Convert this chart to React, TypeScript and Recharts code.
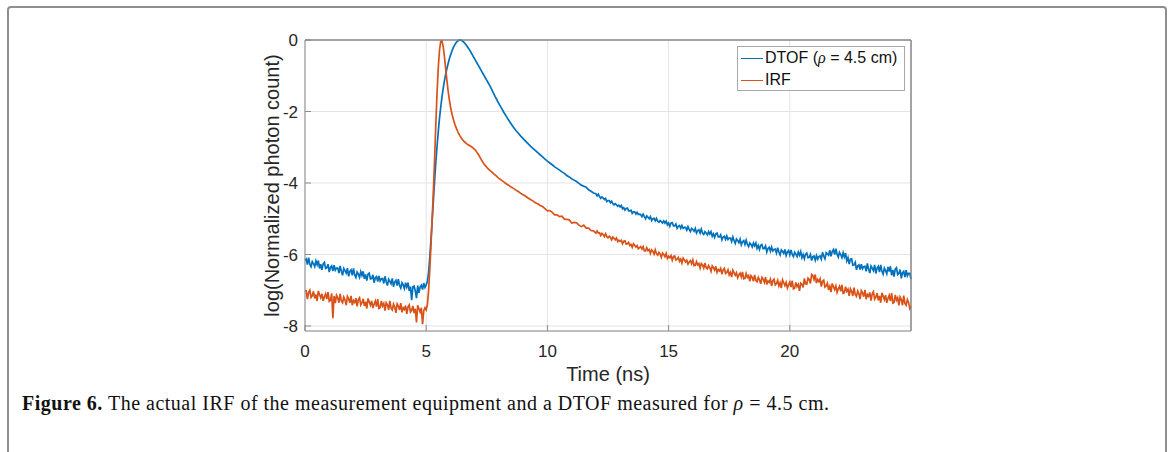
import { LineChart, Line, XAxis, YAxis, CartesianGrid, Legend, ReferenceLine } from 'recharts';

// log(normalized photon count)
// 0.00 – 4.95 ns, 0.05 ns bins (background before the pulse)
const dtofBaseline = [
  -6.17, -6.13, -6.28, -6.09, -6.27, -6.34, -6.2, -6.26, -6.34, -6.18,
  -6.29, -6.17, -6.39, -6.27, -6.43, -6.26, -6.22, -6.39, -6.37, -6.27,
  -6.49, -6.36, -6.32, -6.46, -6.3, -6.44, -6.38, -6.38, -6.52, -6.32,
  -6.47, -6.58, -6.39, -6.45, -6.52, -6.38, -6.61, -6.47, -6.43, -6.58,
  -6.39, -6.57, -6.64, -6.49, -6.55, -6.64, -6.48, -6.59, -6.47, -6.68,
  -6.56, -6.73, -6.55, -6.52, -6.68, -6.67, -6.57, -6.79, -6.65, -6.62,
  -6.76, -6.6, -6.74, -6.68, -6.67, -6.81, -6.61, -6.76, -6.87, -6.69,
  -6.75, -6.82, -6.67, -6.9, -6.77, -6.72, -6.87, -6.69, -6.86, -6.94,
  -6.79, -6.85, -6.95, -6.79, -6.91, -6.79, -7.02, -6.9, -7.28, -6.9,
  -6.88, -7.02, -7.22, -6.87, -7.07, -6.91, -6.86, -6.98, -6.8, -6.92,
];
const irfBaseline = [
  -7.02, -7.02, -7.25, -7.06, -7.0, -7.2, -7.15, -7.03, -7.23, -7.12,
  -7.3, -7.02, -7.12, -7.21, -7.1, -7.3, -7.18, -7.1, -7.25, -7.05,
  -7.31, -7.28, -7.09, -7.78, -7.16, -7.36, -7.14, -7.21, -7.35, -7.1,
  -7.3, -7.35, -7.19, -7.27, -7.42, -7.17, -7.24, -7.35, -7.16, -7.42,
  -7.29, -7.34, -7.22, -7.45, -7.26, -7.21, -7.41, -7.35, -7.24, -7.44,
  -7.32, -7.51, -7.23, -7.32, -7.42, -7.3, -7.5, -7.39, -7.3, -7.46,
  -7.25, -7.51, -7.49, -7.3, -7.44, -7.37, -7.57, -7.35, -7.41, -7.55,
  -7.3, -7.5, -7.55, -7.39, -7.47, -7.63, -7.38, -7.44, -7.55, -7.36,
  -7.62, -7.49, -7.54, -7.43, -7.66, -7.47, -7.41, -7.61, -7.56, -7.44,
  -7.64, -7.52, -7.9, -7.42, -7.52, -7.61, -7.49, -7.95, -7.57, -7.49,
];

// 5.00 – 7.95 ns, 0.05 ns bins (rise and peak)
const dtofPeak = [
  -6.85, -6.75, -6.5, -6.05, -5.55, -5.0, -4.45, -3.9, -3.4, -2.95,
  -2.55, -2.18, -1.88, -1.6, -1.36, -1.15, -0.97, -0.81, -0.67, -0.54,
  -0.43, -0.33, -0.24, -0.17, -0.11, -0.06, -0.03, -0.01, 0, -0.01,
  -0.03, -0.06, -0.1, -0.14, -0.19, -0.24, -0.29, -0.35, -0.41, -0.47,
  -0.53, -0.59, -0.65, -0.71, -0.77, -0.83, -0.89, -0.95, -1.01, -1.07,
  -1.13, -1.19, -1.25, -1.31, -1.38, -1.45, -1.52, -1.59, -1.65, -1.72,
];
const irfPeak = [
  -7.55, -7.4, -7.0, -6.4, -5.7, -4.95, -4.15, -3.25, -2.3, -1.45,
  -0.75, -0.28, -0.03, -0.02, -0.18, -0.45, -0.78, -1.1, -1.4, -1.65,
  -1.86, -2.03, -2.17, -2.29, -2.39, -2.48, -2.56, -2.63, -2.69, -2.74,
  -2.79, -2.83, -2.86, -2.89, -2.92, -2.94, -2.96, -2.98, -3.0, -3.03,
  -3.06, -3.1, -3.15, -3.2, -3.26, -3.32, -3.38, -3.43, -3.48, -3.52,
  -3.56, -3.6, -3.63, -3.66, -3.69, -3.72, -3.75, -3.78, -3.81, -3.84,
];

// 8.0 – 11.9 ns, 0.1 ns bins (early decay)
const dtofDecay = [
  -1.78, -1.9, -2.02, -2.13, -2.24, -2.34, -2.44, -2.53, -2.61, -2.69,
  -2.76, -2.83, -2.9, -2.97, -3.03, -3.09, -3.15, -3.21, -3.27, -3.33,
  -3.39, -3.44, -3.49, -3.55, -3.59, -3.64, -3.69, -3.73, -3.79, -3.83,
  -3.88, -3.92, -3.96, -4.01, -4.06, -4.09, -4.12, -4.19, -4.23, -4.28,
];
const irfDecay = [
  -3.87, -3.92, -3.97, -4.02, -4.06, -4.11, -4.15, -4.2, -4.24, -4.29,
  -4.33, -4.37, -4.42, -4.46, -4.5, -4.55, -4.58, -4.63, -4.66, -4.72,
  -4.78, -4.77, -4.82, -4.89, -4.89, -4.94, -4.93, -5.01, -5.02, -5.03,
  -5.12, -5.1, -5.11, -5.18, -5.22, -5.18, -5.26, -5.26, -5.33, -5.34,
];

// 12.00 – 25.00 ns, 0.05 ns bins (noisy tail)
const dtofTail = [
  -4.3, -4.36, -4.31, -4.38, -4.43, -4.39, -4.42, -4.46, -4.43, -4.52,
  -4.49, -4.49, -4.55, -4.51, -4.58, -4.61, -4.58, -4.61, -4.65, -4.62,
  -4.67, -4.63, -4.72, -4.69, -4.76, -4.71, -4.7, -4.78, -4.78, -4.76,
  -4.85, -4.81, -4.81, -4.87, -4.82, -4.88, -4.87, -4.88, -4.94, -4.87,
  -4.94, -5.0, -4.92, -4.96, -5.0, -4.94, -5.05, -5.0, -4.99, -5.06,
  -4.99, -5.07, -5.1, -5.05, -5.08, -5.12, -5.06, -5.12, -5.07, -5.17,
  -5.12, -5.21, -5.12, -5.11, -5.2, -5.2, -5.15, -5.27, -5.21, -5.19,
  -5.27, -5.19, -5.27, -5.24, -5.24, -5.32, -5.22, -5.3, -5.36, -5.27,
  -5.3, -5.35, -5.27, -5.4, -5.33, -5.31, -5.4, -5.29, -5.4, -5.44,
  -5.36, -5.4, -5.45, -5.36, -5.43, -5.36, -5.49, -5.42, -5.52, -5.42,
  -5.4, -5.51, -5.51, -5.45, -5.59, -5.51, -5.49, -5.58, -5.48, -5.58,
  -5.54, -5.54, -5.64, -5.51, -5.61, -5.69, -5.57, -5.61, -5.67, -5.57,
  -5.73, -5.64, -5.61, -5.72, -5.6, -5.72, -5.78, -5.68, -5.72, -5.79,
  -5.68, -5.76, -5.68, -5.83, -5.75, -5.86, -5.74, -5.72, -5.84, -5.83,
  -5.76, -5.93, -5.83, -5.8, -5.91, -5.79, -5.9, -5.86, -5.85, -5.96,
  -5.81, -5.93, -6.01, -5.87, -5.91, -5.97, -5.86, -6.03, -5.93, -5.89,
  -6.01, -5.87, -6.0, -6.06, -5.94, -5.99, -6.06, -5.93, -6.02, -5.92,
  -6.09, -6.0, -6.12, -5.99, -5.96, -6.09, -6.08, -6.0, -6.17, -6.06,
  -6.04, -6.16, -6.03, -6.13, -6.06, -6.04, -6.13, -5.94, -6.05, -6.12,
  -5.95, -5.98, -6.02, -5.88, -6.05, -5.92, -5.86, -6.0, -5.84, -5.99,
  -6.07, -5.94, -6.0, -6.09, -5.95, -6.07, -5.96, -6.18, -6.09, -6.27,
  -6.13, -6.12, -6.3, -6.29, -6.22, -6.43, -6.32, -6.29, -6.42, -6.27,
  -6.4, -6.34, -6.33, -6.47, -6.25, -6.41, -6.52, -6.32, -6.38, -6.45,
  -6.29, -6.53, -6.38, -6.33, -6.49, -6.29, -6.47, -6.55, -6.38, -6.45,
  -6.54, -6.35, -6.48, -6.33, -6.58, -6.43, -6.62, -6.41, -6.37, -6.56,
  -6.53, -6.42, -6.67, -6.51, -6.47, -6.63, -6.44, -6.6, -6.53, -6.53,
  -6.69,
];
const irfTail = [
  -5.4, -5.34, -5.4, -5.39, -5.47, -5.41, -5.44, -5.5, -5.42, -5.5,
  -5.53, -5.49, -5.52, -5.59, -5.51, -5.55, -5.59, -5.54, -5.64, -5.6,
  -5.63, -5.6, -5.7, -5.63, -5.62, -5.71, -5.7, -5.66, -5.75, -5.72,
  -5.8, -5.7, -5.74, -5.79, -5.75, -5.84, -5.81, -5.78, -5.85, -5.78,
  -5.9, -5.9, -5.81, -5.89, -5.86, -5.97, -5.87, -5.91, -5.99, -5.87,
  -5.98, -6.02, -5.94, -5.99, -6.08, -5.96, -6.0, -6.06, -5.97, -6.11,
  -6.05, -6.09, -6.03, -6.16, -6.06, -6.04, -6.15, -6.13, -6.08, -6.19,
  -6.13, -6.24, -6.1, -6.15, -6.21, -6.16, -6.27, -6.21, -6.17, -6.26,
  -6.15, -6.31, -6.3, -6.2, -6.29, -6.25, -6.38, -6.25, -6.29, -6.38,
  -6.24, -6.37, -6.4, -6.31, -6.37, -6.47, -6.32, -6.37, -6.44, -6.33,
  -6.5, -6.42, -6.46, -6.39, -6.55, -6.43, -6.39, -6.53, -6.5, -6.43,
  -6.57, -6.5, -6.63, -6.44, -6.51, -6.58, -6.51, -6.65, -6.57, -6.52,
  -6.63, -6.49, -6.68, -6.67, -6.53, -6.64, -6.59, -6.75, -6.59, -6.64,
  -6.75, -6.57, -6.72, -6.76, -6.64, -6.71, -6.82, -6.64, -6.69, -6.78,
  -6.63, -6.84, -6.74, -6.78, -6.69, -6.88, -6.73, -6.69, -6.85, -6.81,
  -6.72, -6.88, -6.79, -6.94, -6.71, -6.79, -6.87, -6.78, -6.94, -6.85,
  -6.77, -6.91, -6.73, -6.96, -6.94, -6.78, -6.9, -6.84, -7.02, -6.8,
  -6.83, -6.92, -6.67, -6.82, -6.83, -6.66, -6.7, -6.81, -6.56, -6.59,
  -6.7, -6.56, -6.8, -6.7, -6.76, -6.68, -6.9, -6.75, -6.72, -6.91,
  -6.88, -6.8, -6.99, -6.89, -7.05, -6.81, -6.9, -6.98, -6.88, -7.06,
  -6.96, -6.89, -7.03, -6.85, -7.09, -7.07, -6.9, -7.03, -6.97, -7.16,
  -6.96, -7.03, -7.16, -6.93, -7.12, -7.17, -7.02, -7.1, -7.25, -7.01,
  -7.07, -7.18, -6.99, -7.25, -7.12, -7.17, -7.06, -7.29, -7.1, -7.04,
  -7.25, -7.19, -7.08, -7.28, -7.16, -7.35, -7.07, -7.16, -7.26, -7.14,
  -7.35, -7.23, -7.14, -7.3, -7.08, -7.36, -7.34, -7.13, -7.28, -7.21,
  -7.42, -7.19, -7.26, -7.42, -7.15, -7.37, -7.42, -7.26, -7.34, -7.51,
  -7.45,
];

const segments = [
  { start: 0, step: 0.05, dtof: dtofBaseline, irf: irfBaseline },
  { start: 5, step: 0.05, dtof: dtofPeak, irf: irfPeak },
  { start: 8, step: 0.1, dtof: dtofDecay, irf: irfDecay },
  { start: 12, step: 0.05, dtof: dtofTail, irf: irfTail },
];

const data = segments.flatMap((s) =>
  s.dtof.map((v, i) => ({ t: +(s.start + i * s.step).toFixed(2), dtof: v, irf: s.irf[i] }))
);

const xTicks = [0, 5, 10, 15, 20];
const yTicks = [0, -2, -4, -6, -8];
const X_MAX = 25;
const Y_DOMAIN: [number, number] = [-8.14, 0];

const BLUE = '#0072BD';
const ORANGE = '#D95319';
const AXIS = '#8a8a8a';
const SANS = '"Liberation Sans", Arial, Helvetica, sans-serif';
const SERIF = '"Liberation Serif", "Times New Roman", serif';

const rho = <span style={{ fontFamily: SERIF, fontStyle: 'italic' }}>ρ</span>;

function LegendBox() {
  const row = (color: string, top: number, text: React.ReactNode) => (
    <div style={{ position: 'absolute', left: 3, top, height: 20, display: 'flex', alignItems: 'center', whiteSpace: 'nowrap' }}>
      <span style={{ width: 22, borderTop: `1.8px solid ${color}`, marginRight: 2 }} />
      <span>{text}</span>
    </div>
  );
  return (
    <div
      style={{
        position: 'relative',
        width: 168,
        height: 45,
        boxSizing: 'border-box',
        border: '1px solid #a9a9a9',
        background: '#fff',
        fontFamily: SANS,
        fontSize: 16,
        color: '#111',
      }}
    >
      {row(BLUE, 1, <>DTOF ({rho} = 4.5 cm)</>)}
      {row(ORANGE, 23, 'IRF')}
    </div>
  );
}

export default function App() {
  return (
    <div style={{ position: 'fixed', left: 0, top: 0, width: 1171, height: 452, background: '#fff', overflow: 'hidden' }}>
      <div
        style={{
          position: 'absolute',
          left: 7,
          top: 6,
          width: 1156,
          height: 470,
          border: '2px solid #8e8e8e',
          borderRadius: 4,
        }}
      />
      <div style={{ position: 'absolute', left: 0, top: 0 }}>
        <LineChart
          width={1171}
          height={452}
          data={data}
          margin={{ top: 39, right: 259, bottom: 91, left: 255 }}
          style={{ fontFamily: SANS }}
        >
          <CartesianGrid stroke="#e4e4e4" strokeWidth={1} />
          <XAxis
            dataKey="t"
            type="number"
            domain={[0, X_MAX]}
            ticks={xTicks}
            height={30}
            stroke={AXIS}
            tickSize={-6}
            tickMargin={20}
            tick={{ fill: '#262626', fontSize: 17 }}
            label={{ value: 'Time (ns)', position: 'bottom', offset: 6, fill: '#262626', fontSize: 20 }}
          />
          <XAxis
            xAxisId="top"
            dataKey="t"
            orientation="top"
            type="number"
            domain={[0, X_MAX]}
            ticks={xTicks}
            height={1}
            stroke={AXIS}
            tickSize={-6}
            tick={false}
          />
          <YAxis
            type="number"
            domain={Y_DOMAIN}
            ticks={yTicks}
            width={50}
            stroke={AXIS}
            tickSize={-6}
            tickMargin={13}
            tick={{ fill: '#262626', fontSize: 17 }}
            label={{
              value: 'log(Normalized photon count)',
              angle: -90,
              position: 'insideLeft',
              offset: 17,
              fill: '#262626',
              fontSize: 20,
              style: { textAnchor: 'middle' },
            }}
          />
          <YAxis
            yAxisId="right"
            dataKey="dtof"
            orientation="right"
            type="number"
            domain={Y_DOMAIN}
            ticks={yTicks}
            width={1}
            stroke={AXIS}
            tickSize={-6}
            tick={false}
          />
          <ReferenceLine y={0} stroke={AXIS} strokeWidth={1} />
          <ReferenceLine x={X_MAX} stroke={AXIS} strokeWidth={1} />
          <Line type="linear" dataKey="dtof" stroke={BLUE} strokeWidth={1.7} dot={false} isAnimationActive={false} />
          <Line type="linear" dataKey="irf" stroke={ORANGE} strokeWidth={1.7} dot={false} isAnimationActive={false} />
          <Legend
            layout="vertical"
            verticalAlign="middle"
            align="center"
            wrapperStyle={{ left: 737, top: 46, width: 168, height: 45 }}
            content={() => <LegendBox />}
          />
        </LineChart>
      </div>
      <div
        style={{
          position: 'absolute',
          left: 22,
          top: 392,
          fontFamily: SERIF,
          fontSize: 20,
          letterSpacing: 0.5,
          color: '#111',
          whiteSpace: 'nowrap',
        }}
      >
        <b>Figure 6.</b> The actual IRF of the measurement equipment and a DTOF measured for {rho}
        {' = 4.5 cm.'}
      </div>
    </div>
  );
}
